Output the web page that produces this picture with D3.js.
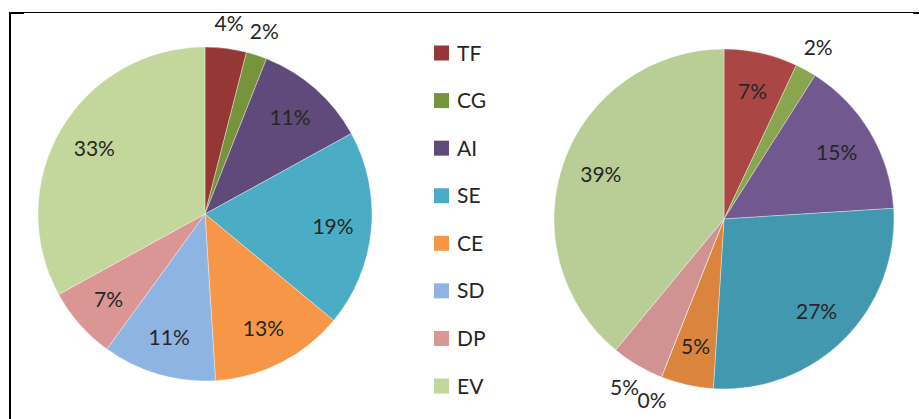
<!DOCTYPE html>
<html>
<head>
<meta charset="utf-8">
<script src="https://cdn.jsdelivr.net/npm/d3@7"></script>
<style>
  body { margin: 0; background: #fff; }
  svg text { font-family: Lato, "Open Sans", sans-serif; fill: #262626; }
</style>
</head>
<body>
<svg id="chart" width="919" height="419"></svg>
<script>
// categories shared by both pies and the legend
var categories = ["TF", "CG", "AI", "SE", "CE", "SD", "DP", "EV"];

// percentages
var leftValues  = [4, 2, 11, 19, 13, 11, 7, 33];
var rightValues = [7, 2, 15, 27, 5, 0, 5, 39];

// slice colours (right pie uses the darker shading)
var leftColors  = ["#953735", "#77933c", "#604a7b", "#4bacc6", "#f79646", "#8eb4e3", "#d99694", "#c3d69b"];
var rightColors = ["#aa4643", "#89a54e", "#71588f", "#4198af", "#db843d", "#93a9cf", "#d19392", "#b9cd96"];

// which labels sit outside the pie
var leftOutside  = ["TF", "CG"];
var rightOutside = ["CG", "SD", "DP"];

var svg = d3.select("#chart");

// frame (only top and left edges show in the picture)
var frame = svg.append("g");
frame.append("line").attr("x1", 9).attr("x2", 918).attr("y1", 12.5).attr("y2", 12.5)
  .attr("stroke", "#000").attr("stroke-width", 1);
frame.append("line").attr("x1", 9).attr("x2", 24).attr("y1", 13).attr("y2", 13)
  .attr("stroke", "#000").attr("stroke-width", 2);
frame.append("line").attr("x1", 913).attr("x2", 919).attr("y1", 13).attr("y2", 13)
  .attr("stroke", "#000").attr("stroke-width", 2);
frame.append("line").attr("x1", 10).attr("x2", 10).attr("y1", 12).attr("y2", 419)
  .attr("stroke", "#000").attr("stroke-width", 2);

var pie = d3.pie().sort(null).value(function(d) { return d.value; });

function drawPie(values, colors, outside, cx, cy, r) {
  var data = categories.map(function(c, i) { return {cat: c, value: values[i], color: colors[i]}; });
  var arcs = pie(data);

  var arc = d3.arc().innerRadius(0).outerRadius(r);
  var inLabel = d3.arc().innerRadius(r * 0.77).outerRadius(r * 0.77);
  var outLabel = d3.arc().innerRadius(r * 1.15).outerRadius(r * 1.15);

  var g = svg.append("g").attr("transform", "translate(" + cx + "," + cy + ")");

  g.selectAll("path")
    .data(arcs)
    .enter().append("path")
      .attr("d", arc)
      .attr("fill", function(d) { return d.data.color; })
      .attr("stroke", "#fff")
      .attr("stroke-opacity", 0.6)
      .attr("stroke-width", 0.6);

  g.selectAll("text")
    .data(arcs)
    .enter().append("text")
      .attr("transform", function(d) {
        var p = outside.indexOf(d.data.cat) >= 0 ? outLabel.centroid(d) : inLabel.centroid(d);
        return "translate(" + p[0] + "," + p[1] + ")";
      })
      .attr("text-anchor", "middle")
      .attr("dy", "0.36em")
      .style("font-size", "21px")
      .text(function(d) { return d.data.value + "%"; });
}

drawPie(leftValues, leftColors, leftOutside, 205, 214, 167);
drawPie(rightValues, rightColors, rightOutside, 724, 219, 170);

// legend
var legendY = d3.scalePoint().domain(categories).range([53, 386]);

var legend = svg.append("g").selectAll("g")
  .data(categories)
  .enter().append("g")
    .attr("transform", function(d) { return "translate(434," + legendY(d) + ")"; });

legend.append("rect")
  .attr("x", 0).attr("y", -7.5)
  .attr("width", 15).attr("height", 15)
  .attr("fill", function(d, i) { return leftColors[i]; });

legend.append("text")
  .attr("x", 23)
  .attr("dy", "0.36em")
  .style("font-size", "21px")
  .text(function(d) { return d; });
</script>
</body>
</html>
